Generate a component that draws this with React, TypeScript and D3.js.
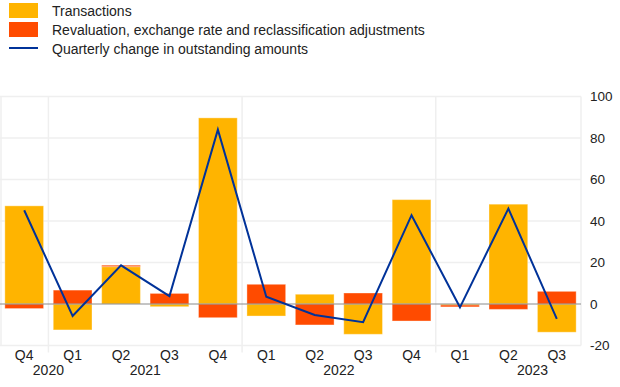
import React from 'react';
import * as d3 from 'd3';

const quarters = ['Q4', 'Q1', 'Q2', 'Q3', 'Q4', 'Q1', 'Q2', 'Q3', 'Q4', 'Q1', 'Q2', 'Q3'];
const periods = quarters.map((q, i) => `${i}-${q}`);
const transactions = [47.3, -12.5, 18.0, -1.3, 89.7, -5.8, 4.7, -14.6, 50.3, -0.5, 48.1, -13.6];
const revaluation = [-2.2, 6.7, 0.7, 5.1, -6.6, 9.5, -10.1, 5.3, -8.2, -0.9, -2.6, 6.1];
const quarterlyChange = [45.2, -5.8, 18.6, 3.8, 84.0, 3.5, -5.3, -8.8, 42.8, -1.6, 46.0, -7.2];
// year label, centred on the boundary before this quarter index
const years = [
  { label: '2020', at: 1 },
  { label: '2021', at: 3 },
  { label: '2022', at: 7 },
  { label: '2023', at: 11 },
];
const separators = [1, 5, 9];
const yTicks = [-20, 0, 20, 40, 60, 80, 100];

const seriesNames = ['Transactions', 'Revaluation, exchange rate and reclassification adjustments'];
const seriesColors = ['#FFB400', '#FF4B00'];
const lineName = 'Quarterly change in outstanding amounts';
const lineColor = '#003299';

const W = 620;
const H = 387;
const plot = { left: 0, right: 581, top: 96.5, bottom: 345.5 };
const font = '"Liberation Sans", Arial, sans-serif';

export default function App() {
  const x = d3.scaleBand<string>()
    .domain(periods)
    .range([plot.left, plot.right])
    .paddingInner(0.2)
    .paddingOuter(0.1);

  const y = d3.scaleLinear().domain([-20, 100]).range([plot.bottom, plot.top]);

  const rows = periods.map((p, i) => ({ p, t: transactions[i], r: revaluation[i] }));
  const stacked = d3.stack<any>()
    .keys(['t', 'r'])
    .offset(d3.stackOffsetDiverging)(rows);

  const boundary = (i: number) => plot.left + i * x.step();
  const cx = (i: number) => (x(periods[i]) || 0) + x.bandwidth() / 2;

  const line = d3.line<number>()
    .x((_, i) => cx(i))
    .y(d => y(d));

  return (
    <div style={{ position: 'absolute', left: 0, top: 0 }}>
      <svg width={W} height={H} style={{ display: 'block', fontFamily: font }}>
        <rect width={W} height={H} fill="#fff" />

        {/* legend */}
        {seriesNames.map((name, i) => (
          <g key={name}>
            <rect x={9} y={3 + i * 19} width={29} height={15} fill={seriesColors[i]} />
            <text x={52} y={16 + i * 19} fontSize={14} fill="#222">{name}</text>
          </g>
        ))}
        <line x1={9} x2={38} y1={48} y2={48} stroke={lineColor} strokeWidth={2} />
        <text x={52} y={54} fontSize={14} fill="#222">{lineName}</text>

        {/* grid */}
        {yTicks.filter(t => t !== 0).map(t => (
          <line key={t} x1={plot.left} x2={plot.right} y1={y(t)} y2={y(t)} stroke="#efefef" strokeWidth={1.5} />
        ))}
        <line x1={plot.left + 1} x2={plot.left + 1} y1={plot.top} y2={plot.bottom} stroke="#efefef" strokeWidth={1.5} />
        <line x1={plot.right} x2={plot.right} y1={plot.top} y2={plot.bottom} stroke="#efefef" strokeWidth={1.5} />
        {separators.map(s => (
          <line key={s} x1={boundary(s)} x2={boundary(s)} y1={plot.top} y2={plot.bottom + 7} stroke="#efefef" strokeWidth={1.5} />
        ))}

        {/* bars */}
        {stacked.map((layer, li) => (
          <g key={layer.key} fill={seriesColors[li]}>
            {layer.map((d, i) => {
              const y0 = y(Math.max(d[0], d[1]));
              const y1 = y(Math.min(d[0], d[1]));
              return (
                <rect
                  key={i}
                  x={x(periods[i])}
                  y={y0}
                  width={x.bandwidth()}
                  height={Math.max(0, y1 - y0)}
                  stroke="rgba(255,255,255,0.35)"
                  strokeWidth={1}
                />
              );
            })}
          </g>
        ))}

        {/* zero line */}
        <line x1={plot.left} x2={plot.right} y1={y(0)} y2={y(0)} stroke="#8a8a8a" strokeWidth={1} />

        {/* quarterly change line */}
        <path d={line(quarterlyChange) || ''} fill="none" stroke={lineColor} strokeWidth={2} strokeLinejoin="miter" />

        {/* y axis labels (right) */}
        {yTicks.map(t => (
          <text key={t} x={590} y={y(t)} dy="0.35em" fontSize={13.5} fill="#222">{t}</text>
        ))}

        {/* x axis labels */}
        {quarters.map((q, i) => (
          <text key={i} x={cx(i)} y={360} textAnchor="middle" fontSize={14} fill="#222">{q}</text>
        ))}
        {years.map(yr => (
          <text key={yr.label} x={boundary(yr.at)} y={375} textAnchor="middle" fontSize={14} fill="#222">{yr.label}</text>
        ))}
      </svg>
    </div>
  );
}
